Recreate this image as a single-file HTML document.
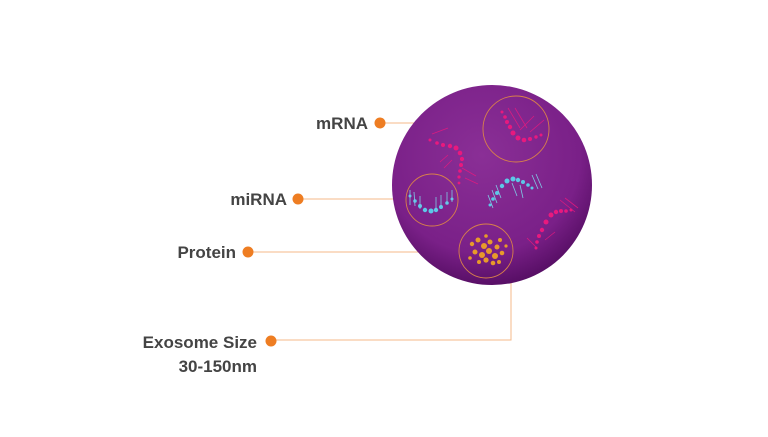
<!DOCTYPE html>
<html><head><meta charset="utf-8"><style>
body{margin:0;width:768px;height:432px;background:#fff;overflow:hidden}
text{font-family:"Liberation Sans",sans-serif;font-weight:bold;fill:#444;font-size:17px}
</style></head><body>
<svg width="768" height="432" viewBox="0 0 768 432">
<defs>
<radialGradient id="g" cx="0.45" cy="0.35" r="0.7">
<stop offset="0" stop-color="#8a2f96"/><stop offset="0.7" stop-color="#7a2088"/><stop offset="1" stop-color="#4e0a5c"/>
</radialGradient>
</defs>
<g stroke="#f4b889" stroke-width="1" fill="none">
<line x1="380" y1="123" x2="484" y2="123"/>
<line x1="298" y1="199" x2="406" y2="199"/>
<line x1="248" y1="252" x2="459" y2="252"/>
<polyline points="270,340 511,340 511,283"/>
</g>
<circle cx="492" cy="185" r="100" fill="url(#g)"/>
<g fill="none" stroke="#d8804a" stroke-width="0.9">
<circle cx="516" cy="129" r="33"/><circle cx="432" cy="200" r="26"/><circle cx="486" cy="251" r="27"/>
</g>
<g fill="#e8197e">
<circle cx="502" cy="112" r="1.5"/><circle cx="505" cy="117" r="1.8"/><circle cx="507" cy="122" r="2"/><circle cx="510" cy="127" r="2.2"/><circle cx="513" cy="133" r="2.5"/><circle cx="518" cy="138" r="2.5"/><circle cx="524" cy="140" r="2.3"/><circle cx="530" cy="139" r="2"/><circle cx="536" cy="137" r="1.7"/><circle cx="541" cy="135" r="1.5"/>
<circle cx="430" cy="140" r="1.5"/><circle cx="437" cy="143" r="1.8"/><circle cx="443" cy="145" r="2"/><circle cx="450" cy="146" r="2.2"/><circle cx="456" cy="148" r="2.5"/><circle cx="460" cy="153" r="2.3"/><circle cx="462" cy="159" r="2.1"/><circle cx="461" cy="165" r="2"/><circle cx="460" cy="171" r="1.8"/><circle cx="459" cy="177" r="1.6"/><circle cx="459" cy="183" r="1.4"/>
<circle cx="536" cy="248" r="1.5"/><circle cx="537" cy="242" r="1.8"/><circle cx="539" cy="236" r="2"/><circle cx="542" cy="230" r="2.2"/><circle cx="546" cy="222" r="2.5"/><circle cx="551" cy="215" r="2.5"/><circle cx="556" cy="212" r="2.2"/><circle cx="561" cy="211" r="2"/><circle cx="566" cy="211" r="1.8"/><circle cx="571" cy="210" r="1.5"/>
</g>
<g stroke="#e8197e" stroke-width="0.8" opacity="0.85">
<line x1="508" y1="108" x2="520" y2="128"/><line x1="515" y1="108" x2="527" y2="128"/><line x1="520" y1="130" x2="534" y2="116"/><line x1="530" y1="132" x2="544" y2="120"/>
<line x1="432" y1="134" x2="448" y2="128"/><line x1="462" y1="168" x2="476" y2="176"/><line x1="465" y1="178" x2="478" y2="184"/><line x1="448" y1="155" x2="440" y2="162"/><line x1="452" y1="160" x2="444" y2="168"/>
<line x1="545" y1="240" x2="555" y2="232"/><line x1="527" y1="238" x2="537" y2="248"/><line x1="560" y1="200" x2="575" y2="212"/><line x1="565" y1="198" x2="578" y2="208"/>
</g>
<g fill="#5cc8e8">
<circle cx="490" cy="205" r="1.5"/><circle cx="493" cy="199" r="1.8"/><circle cx="497" cy="193" r="2"/><circle cx="502" cy="186" r="2.2"/><circle cx="507" cy="181" r="2.5"/><circle cx="513" cy="179" r="2.5"/><circle cx="518" cy="180" r="2.2"/><circle cx="523" cy="182" r="2"/><circle cx="528" cy="185" r="1.8"/><circle cx="532" cy="188" r="1.5"/>
<circle cx="410" cy="196" r="1.5"/><circle cx="415" cy="201" r="1.8"/><circle cx="420" cy="206" r="2"/><circle cx="425" cy="210" r="2.2"/><circle cx="431" cy="211" r="2.5"/><circle cx="436" cy="210" r="2.2"/><circle cx="441" cy="207" r="2"/><circle cx="447" cy="203" r="1.8"/><circle cx="452" cy="199" r="1.5"/>
</g>
<g stroke="#7ecbe6" stroke-width="0.8">
<line x1="488" y1="195" x2="493" y2="208"/><line x1="492" y1="190" x2="497" y2="203"/><line x1="496" y1="185" x2="501" y2="198"/><line x1="512" y1="183" x2="517" y2="196"/><line x1="520" y1="185" x2="523" y2="198"/><line x1="532" y1="175" x2="538" y2="189"/><line x1="536" y1="174" x2="542" y2="188"/>
<line x1="410" y1="190" x2="410" y2="205"/><line x1="414" y1="192" x2="415" y2="206"/><line x1="420" y1="196" x2="420" y2="209"/><line x1="436" y1="197" x2="436" y2="210"/><line x1="441" y1="195" x2="441" y2="207"/><line x1="447" y1="192" x2="447" y2="204"/><line x1="452" y1="190" x2="452" y2="202"/>
</g>
<g fill="#e89a2a">
<circle cx="472" cy="244" r="2.2"/><circle cx="478" cy="240" r="2.5"/><circle cx="484" cy="246" r="3"/><circle cx="490" cy="242" r="2.5"/><circle cx="497" cy="247" r="2.5"/><circle cx="500" cy="240" r="2"/><circle cx="475" cy="252" r="2.5"/><circle cx="482" cy="255" r="3"/><circle cx="489" cy="251" r="3"/><circle cx="495" cy="256" r="3"/><circle cx="502" cy="253" r="2.3"/><circle cx="486" cy="260" r="2.6"/><circle cx="493" cy="263" r="2.3"/><circle cx="479" cy="262" r="2"/><circle cx="499" cy="262" r="2"/><circle cx="470" cy="258" r="1.8"/><circle cx="486" cy="236" r="1.8"/><circle cx="506" cy="246" r="1.6"/>
</g>
<g fill="#ee7d22">
<circle cx="380" cy="123" r="5.5"/><circle cx="298" cy="199" r="5.5"/><circle cx="248" cy="252" r="5.5"/><circle cx="271" cy="341" r="5.5"/>
</g>
<text x="368" y="129" text-anchor="end">mRNA</text>
<text x="287" y="205" text-anchor="end">miRNA</text>
<text x="236" y="258" text-anchor="end">Protein</text>
<text x="257" y="348" text-anchor="end">Exosome Size</text>
<text x="257" y="372" text-anchor="end">30-150nm</text>
</svg>
</body></html>
